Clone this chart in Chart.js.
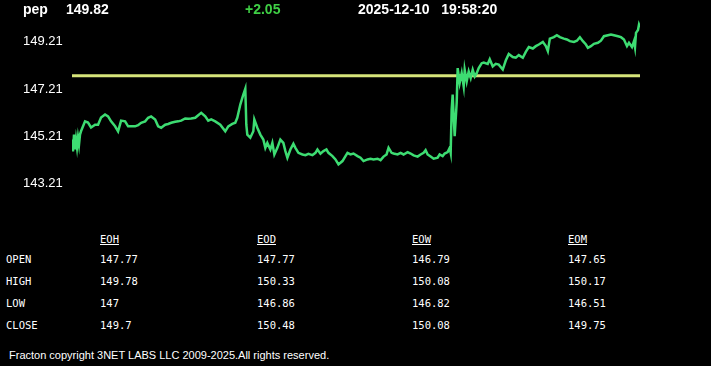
<!DOCTYPE html>
<html>
<head>
<meta charset="utf-8">
<script src="https://cdn.jsdelivr.net/npm/chart.js@4.4.1/dist/chart.umd.min.js"></script>
<style>
  html, body { margin: 0; padding: 0; background: #000; }
  body { width: 711px; height: 366px; position: relative; overflow: hidden; font-family: "Liberation Sans", Arial, sans-serif; color: #fff; }
  #chart { position: absolute; left: 0; top: 0; }
  .hdr { position: absolute; top: 1px; font-size: 14px; font-weight: bold; line-height: 16px; white-space: pre; }
  .mono { position: absolute; font-family: "DejaVu Sans Mono", monospace; font-size: 10.5px; line-height: 12px; white-space: pre; color: #fff; }
  .mono.head { text-decoration: underline; }
  #footer { position: absolute; left: 9px; top: 348px; font-size: 11px; line-height: 14px; }
</style>
</head>
<body>
<canvas id="chart" width="711" height="215"></canvas>
<div class="hdr" id="sym" style="left:23px"></div>
<div class="hdr" id="last" style="left:66px"></div>
<div class="hdr" id="chg" style="left:245px;color:#3fcf45"></div>
<div class="hdr" id="stamp" style="left:358px"></div>
<div id="table"></div>
<div id="footer">Fracton copyright 3NET LABS LLC 2009-2025.All rights reserved.</div>
<script>
// header
const symbol = 'pep';
const lastPrice = '149.82';
const change = '+2.05';
const dateStr = '2025-12-10';
const timeStr = '19:58:20';

// y axis
const yTicks = [149.21, 147.21, 145.21, 143.21];
const openLevel = 147.77;

// intraday samples (step index, price)
const steps = [0,1,2,3,4,5,6,7,8,9,13,16,19,23,26,29,33,36,39,43,46,49,53,56,59,63,66,69,73,76,79,83,86,89,93,96,99,103,106,109,113,116,119,123,126,129,133,136,139,143,148,153,156,160,163,165,168,171,173,174,175,178,181,182,185,188,191,193,195,198,200,202,205,208,211,213,215,218,221,223,226,230,233,236,240,243,245,248,251,254,256,260,263,266,270,273,275,278,281,285,288,291,295,298,301,305,308,311,314,316,319,321,325,328,331,335,338,341,345,348,351,353,355,358,361,365,367,370,372,375,377,378,379,380,381,382,384,385,387,389,391,392,394,396,398,400,402,404,406,409,411,415,417,420,423,426,430,433,436,440,443,446,450,453,456,460,463,466,470,473,475,477,481,484,487,491,494,497,501,504,507,510,513,515,518,521,525,528,531,535,538,541,545,548,551,554,556,559,561,562,563,565,566,567];
const prices = [145.07,144.57,145.28,144.65,145.07,144.74,145.16,144.86,145.28,145.42,145.84,145.79,145.58,145.70,145.70,146.00,146.13,146.05,145.84,145.63,145.42,145.87,145.84,145.63,145.63,145.63,145.68,145.78,145.84,145.99,146.05,145.92,145.63,145.57,145.70,145.73,145.78,145.82,145.84,145.87,145.96,145.95,145.96,145.99,146.10,146.20,146.05,145.87,145.92,145.84,145.70,145.42,145.63,145.73,145.78,145.99,146.55,146.97,147.22,145.70,145.28,145.15,145.42,145.92,145.57,145.28,145.07,144.72,144.93,144.65,144.93,144.44,144.72,145.07,144.93,144.58,144.30,144.65,144.89,144.72,144.51,144.44,144.41,144.47,144.41,144.51,144.65,144.47,144.58,144.65,144.51,144.37,144.23,144.02,144.16,144.37,144.51,144.44,144.48,144.37,144.30,144.16,144.23,144.26,144.23,144.26,144.20,144.35,144.44,144.72,144.51,144.48,144.44,144.51,144.44,144.54,144.48,144.40,144.35,144.44,144.51,144.62,144.44,144.35,144.26,144.30,144.44,144.37,144.48,144.54,144.72,144.51,146.34,146.97,146.05,145.21,146.62,148.09,147.46,147.88,147.32,148.02,147.53,147.95,147.67,148.02,147.74,147.88,148.09,148.30,148.33,148.27,148.47,148.16,148.27,148.24,148.03,148.41,148.69,148.56,148.53,148.64,148.53,148.78,148.98,148.92,149.02,149.09,149.20,149.02,148.81,149.34,149.40,149.48,149.40,149.34,149.30,149.23,149.20,149.25,149.40,149.23,149.09,148.95,149.02,149.12,149.16,149.25,149.44,149.48,149.51,149.48,149.44,149.40,149.30,149.02,149.16,148.98,149.23,148.98,149.58,149.70,149.93,149.82];

// stats table
const tableCols = ['EOH', 'EOD', 'EOW', 'EOM'];
const rowNames = ['OPEN', 'HIGH', 'LOW', 'CLOSE'];
const openVals = ['147.77', '147.77', '146.79', '147.65'];
const highVals = ['149.78', '150.33', '150.08', '150.17'];
const lowVals = ['147', '146.86', '146.82', '146.51'];
const closeVals = ['149.7', '150.48', '150.08', '149.75'];

document.getElementById('sym').textContent = symbol;
document.getElementById('last').textContent = lastPrice;
document.getElementById('chg').textContent = change;
document.getElementById('stamp').textContent = dateStr + '   ' + timeStr;

// build table
const colX = [100, 257, 412, 568];
const rowY = [253, 275, 297, 319];
const tbl = document.getElementById('table');
function cell(txt, x, y, cls) {
    const d = document.createElement('div');
    d.className = 'mono' + (cls ? ' ' + cls : '');
    d.style.left = x + 'px';
    d.style.top = y + 'px';
    d.textContent = txt;
    tbl.appendChild(d);
}
tableCols.forEach((c, i) => cell(c, colX[i], 233, 'head'));
[openVals, highVals, lowVals, closeVals].forEach((vals, r) => {
    cell(rowNames[r], 6, rowY[r]);
    vals.forEach((v, i) => cell(v, colX[i], rowY[r]));
});

const ctx = document.getElementById('chart').getContext('2d');
const lastStep = steps[steps.length - 1];

new Chart(ctx, {
    type: 'line',
    data: {
        datasets: [
            {
                label: 'price',
                data: steps.map((s, i) => ({ x: s, y: prices[i] })),
                borderColor: '#3ddc72',
                borderWidth: 2.5,
                pointRadius: 0,
                tension: 0
            },
            {
                label: 'open',
                data: [{ x: 0, y: openLevel }, { x: lastStep, y: openLevel }],
                borderColor: '#d6e47a',
                borderWidth: 3,
                pointRadius: 0
            }
        ]
    },
    options: {
        responsive: false,
        animation: false,
        devicePixelRatio: 1,
        layout: { padding: { left: 23, right: 71, top: 18, bottom: 7 } },
        plugins: { legend: { display: false }, tooltip: { enabled: false } },
        scales: {
            x: { type: 'linear', min: 0, max: lastStep, display: false },
            y: {
                min: 142.21,
                max: 150.21,
                grid: { display: false },
                border: { display: false },
                afterBuildTicks: function(axis) {
                    axis.ticks = yTicks.map(v => ({ value: v }));
                },
                afterFit: function(axis) { axis.width = 49; },
                ticks: {
                    color: '#fff',
                    crossAlign: 'far',
                    padding: 0,
                    font: { family: 'Liberation Sans, Arial', size: 13 },
                    callback: v => v.toFixed(2)
                }
            }
        }
    }
});
</script>
</body>
</html>
